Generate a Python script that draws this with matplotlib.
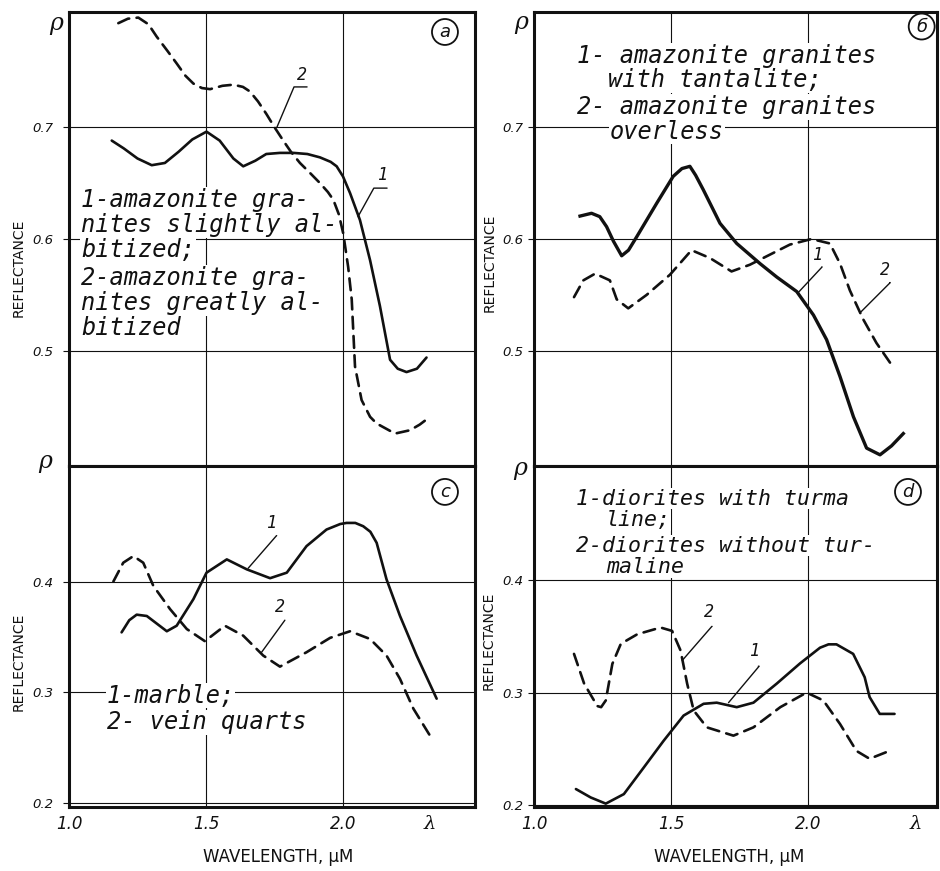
import matplotlib
matplotlib.use("Agg")
import matplotlib.pyplot as plt

ink = "#111111"

# ---- panel a : amazonite granites, albitization
a_x1 = [1.156, 1.20, 1.25, 1.302, 1.35, 1.40, 1.45, 1.502, 1.55, 1.60, 1.636, 1.68, 1.72, 1.77,
        1.82, 1.87, 1.916, 1.955, 1.977, 2.00, 2.026, 2.062, 2.099, 2.135, 2.172, 2.20, 2.232,
        2.27, 2.305]
a_y1 = [0.688, 0.681, 0.672, 0.666, 0.668, 0.678, 0.689, 0.696, 0.688, 0.672, 0.665, 0.670,
        0.676, 0.677, 0.677, 0.676, 0.673, 0.669, 0.665, 0.656, 0.641, 0.617, 0.581, 0.540,
        0.492, 0.484, 0.481, 0.484, 0.494]
a_x2 = [1.18, 1.215, 1.253, 1.29, 1.32, 1.36, 1.393, 1.425, 1.454, 1.485, 1.515, 1.56, 1.60,
        1.635, 1.66, 1.69, 1.72, 1.75, 1.782, 1.81, 1.843, 1.88, 1.916, 1.945, 1.965, 1.985,
        2.001, 2.019, 2.032, 2.038, 2.044, 2.068, 2.099, 2.123, 2.19, 2.245, 2.28, 2.318]
a_y2 = [0.793, 0.797, 0.798, 0.792, 0.781, 0.768, 0.757, 0.746, 0.739, 0.735, 0.734, 0.737,
        0.738, 0.736, 0.732, 0.723, 0.712, 0.700, 0.688, 0.678, 0.668, 0.659, 0.650, 0.642,
        0.635, 0.622, 0.605, 0.575, 0.546, 0.516, 0.486, 0.456, 0.441, 0.435, 0.426, 0.429,
        0.434, 0.441]

# ---- panel b : amazonite granites, tantalite
b_x1 = [1.168, 1.21, 1.24, 1.265, 1.29, 1.32, 1.345, 1.375, 1.448, 1.508, 1.54, 1.569, 1.59,
        1.618, 1.679, 1.74, 1.825, 1.886, 1.959, 2.02, 2.068, 2.117, 2.166, 2.214, 2.263,
        2.305, 2.348]
b_y1 = [0.6205, 0.623, 0.620, 0.611, 0.598, 0.585, 0.590, 0.602, 0.632, 0.656, 0.663, 0.665,
        0.657, 0.644, 0.614, 0.596, 0.578, 0.566, 0.553, 0.532, 0.510, 0.477, 0.441, 0.413,
        0.407, 0.415, 0.426]
b_x2 = [1.146, 1.18, 1.223, 1.277, 1.302, 1.344, 1.411, 1.496, 1.575, 1.642, 1.721, 1.788,
        1.861, 1.934, 2.013, 2.08, 2.117, 2.153, 2.202, 2.25, 2.305]
b_y2 = [0.548, 0.563, 0.569, 0.563, 0.546, 0.538, 0.550, 0.568, 0.590, 0.583, 0.571, 0.577,
        0.586, 0.595, 0.600, 0.596, 0.578, 0.554, 0.528, 0.507, 0.4875]

# ---- panel c : marble / vein quartz
c_x1 = [1.192, 1.22, 1.247, 1.284, 1.357, 1.393, 1.454, 1.502, 1.576, 1.649, 1.734, 1.795,
        1.867, 1.94, 1.99, 2.013, 2.045, 2.074, 2.10, 2.123, 2.159, 2.208, 2.269, 2.342]
c_y1 = [0.354, 0.365, 0.370, 0.3688, 0.355, 0.360, 0.384, 0.408, 0.420, 0.411, 0.403, 0.408,
        0.432, 0.447, 0.452, 0.453, 0.453, 0.450, 0.445, 0.435, 0.402, 0.369, 0.333, 0.294]
c_x2 = [1.162, 1.198, 1.235, 1.271, 1.308, 1.369, 1.43, 1.496, 1.569, 1.636, 1.709, 1.77,
        1.867, 1.953, 2.026, 2.099, 2.159, 2.208, 2.257, 2.324]
c_y2 = [0.400, 0.417, 0.423, 0.417, 0.396, 0.375, 0.357, 0.346, 0.360, 0.351, 0.333, 0.323,
        0.336, 0.349, 0.355, 0.348, 0.333, 0.312, 0.285, 0.258]

# ---- panel d : diorites with / without tourmaline
d_x1 = [1.153, 1.207, 1.262, 1.328, 1.40, 1.473, 1.546, 1.619, 1.667, 1.74, 1.801, 1.886,
        1.971, 2.044, 2.075, 2.104, 2.165, 2.207, 2.225, 2.262, 2.316]
d_y1 = [0.214, 0.2065, 0.201, 0.2095, 0.233, 0.257, 0.2795, 0.290, 0.291, 0.287, 0.291, 0.308,
        0.326, 0.340, 0.343, 0.343, 0.3345, 0.3137, 0.296, 0.281, 0.281]
d_x2 = [1.146, 1.183, 1.231, 1.245, 1.262, 1.286, 1.317, 1.377, 1.462, 1.504, 1.535, 1.559,
        1.583, 1.631, 1.728, 1.801, 1.899, 1.995, 2.056, 2.117, 2.177, 2.225, 2.292]
d_y2 = [0.3345, 0.308, 0.288, 0.287, 0.293, 0.3256, 0.3435, 0.352, 0.358, 0.355, 0.3375, 0.308,
        0.284, 0.269, 0.2616, 0.269, 0.287, 0.300, 0.293, 0.272, 0.248, 0.241, 0.2475]

top_ticks = [0.5, 0.6, 0.7]
bottom_ticks = [0.2, 0.3, 0.4]
x_ticks = [1.0, 1.5, 2.0]

a_text = ["1-amazonite gra-", "nites slightly al-", "bitized;",
          "2-amazonite gra-", "nites greatly al-", "bitized"]
b_text = ["1- amazonite granites", "with tantalite;",
          "2- amazonite granites", "overless"]
c_text = ["1-marble;", "2- vein quarts"]
d_text = ["1-diorites with turma", "line;",
          "2-diorites without tur-", "maline"]

hand = dict(family="DejaVu Sans Mono", style="oblique", color=ink)

fig = plt.figure(figsize=(9.4, 8.71), dpi=100)
W, H = 940, 871
ax_a = fig.add_axes([69 / W, 1 - 466 / H, 406 / W, 454 / H])
ax_b = fig.add_axes([534 / W, 1 - 466 / H, 403 / W, 454 / H])
ax_c = fig.add_axes([69 / W, 1 - 807 / H, 406 / W, 341 / H])
ax_d = fig.add_axes([534 / W, 1 - 807 / H, 403 / W, 341 / H])


def style(ax, xmax, ylim, yticks, bottom, pad):
    ax.set_xlim(1.0, xmax)
    ax.set_ylim(*ylim)
    ax.set_axisbelow(True)
    for s in ax.spines.values():
        s.set_linewidth(2.2)
        s.set_color(ink)
    ax.set_yticks(yticks)
    ax.set_yticklabels([f"{t:.1f}" for t in yticks], fontsize=9.5, style="italic", color=ink)
    ax.set_xticks(x_ticks)
    if bottom:
        ax.set_xticklabels([f"{t:.1f}" for t in x_ticks], fontsize=12, style="italic", color=ink)
    else:
        ax.set_xticklabels([])
    ax.grid(True, color=ink, lw=0.8)
    ax.tick_params(axis="y", direction="out", length=4, width=0.8, pad=pad, colors=ink)
    ax.tick_params(axis="x", length=0, pad=6)


style(ax_a, 2.482, (0.397, 0.803), top_ticks, False, 7)
style(ax_b, 2.471, (0.397, 0.803), top_ticks, False, 4)
style(ax_c, 2.482, (0.196, 0.5045), bottom_ticks, True, 7)
style(ax_d, 2.471, (0.198, 0.502), bottom_ticks, True, 4)

solid = dict(color=ink, lw=1.9, solid_capstyle="round", solid_joinstyle="round", zorder=4)
dashed = dict(color=ink, lw=1.9, dashes=(4.5, 2.8), dash_capstyle="round", zorder=4)

ax_a.plot(a_x1, a_y1, **solid)
ax_a.plot(a_x2, a_y2, **dashed)
ax_b.plot(b_x1, b_y1, color=ink, lw=2.4, solid_joinstyle="round", zorder=4)
ax_b.plot(b_x2, b_y2, **dashed)
ax_c.plot(c_x1, c_y1, **solid)
ax_c.plot(c_x2, c_y2, **dashed)
ax_d.plot(d_x1, d_y1, **solid)
ax_d.plot(d_x2, d_y2, **dashed)


def write(ax, lines, xs, ys, size=17):
    for s, x, y in zip(lines, xs, ys):
        ax.text(x, y, s, fontsize=size, ha="left", va="center", zorder=3,
                bbox=dict(fc="white", ec="none", pad=0.5), **hand)


write(ax_a, a_text, [1.044] * 6, [0.6348, 0.6125, 0.5902, 0.5652, 0.5429, 0.5205])
write(ax_b, b_text, [1.157, 1.27, 1.157, 1.277], [0.764, 0.742, 0.718, 0.696])
write(ax_c, c_text, [1.137, 1.137], [0.2967, 0.2727])
write(ax_d, d_text, [1.155, 1.262, 1.155, 1.262], [0.473, 0.4536, 0.431, 0.4119], size=15.5)


def leader(ax, num, txt, bar_end, target, angle):
    ax.text(txt[0], txt[1], num, fontsize=12, ha="center", va="center", zorder=5, **hand)
    ax.annotate("", xy=target, xytext=bar_end, zorder=5,
                arrowprops=dict(arrowstyle="-", lw=1.0, color=ink, shrinkA=0, shrinkB=0,
                                connectionstyle=f"angle,angleA=0,angleB={angle},rad=0"))


leader(ax_a, "2", (1.850, 0.747), (1.869, 0.736), (1.759, 0.700), 67)
leader(ax_a, "1", (2.146, 0.657), (2.161, 0.6455), (2.055, 0.620), 61)
leader(ax_b, "1", (2.036, 0.586), (2.051, 0.575), (1.964, 0.552), 47)
leader(ax_b, "2", (2.281, 0.572), (2.299, 0.561), (2.19, 0.534), 45)
leader(ax_c, "1", (1.74, 0.453), (1.758, 0.4415), (1.654, 0.412), 49)
leader(ax_c, "2", (1.77, 0.377), (1.788, 0.365), (1.703, 0.336), 54)
leader(ax_d, "2", (1.6375, 0.372), (1.65, 0.359), (1.541, 0.3286), 49)
leader(ax_d, "1", (1.807, 0.337), (1.819, 0.3235), (1.71, 0.291), 50)

# circled panel letters
for ax, letter, x, y in [(ax_a, "a", 0.926, 0.956), (ax_b, "б", 0.962, 0.968),
                         (ax_c, "c", 0.926, 0.924), (ax_d, "d", 0.928, 0.924)]:
    ax.text(x, y, letter, transform=ax.transAxes, fontsize=13, ha="center", va="center",
            family="DejaVu Sans", style="italic", color=ink, zorder=6,
            bbox=dict(boxstyle="circle,pad=0.22", fc="white", ec=ink, lw=1.3))

# rho marks on the y axes
for ax, x, y in [(ax_a, -0.032, 0.974), (ax_b, -0.032, 0.976),
                 (ax_c, -0.059, 1.012), (ax_d, -0.035, 0.994)]:
    ax.text(x, y, "ρ", transform=ax.transAxes, fontsize=17, ha="center", va="center",
            family="DejaVu Serif", style="italic", color=ink, clip_on=False)

# lambda at the end of the x axes
ax_c.text(2.3175, -0.0235, "λ", transform=ax_c.get_xaxis_transform(), fontsize=14,
          ha="center", va="top", family="DejaVu Serif", style="italic", color=ink)
ax_d.text(2.395, -0.0235, "λ", transform=ax_d.get_xaxis_transform(), fontsize=14,
          ha="center", va="top", family="DejaVu Serif", style="italic", color=ink)

# axis titles
for x, y in [(19, 268), (490, 263), (19, 662), (489, 641)]:
    fig.text(x / W, 1 - y / H, "REFLECTANCE", rotation=90, fontsize=10,
             ha="center", va="center", color=ink)
for x in [278, 729]:
    fig.text(x / W, 1 - 857 / H, "WAVELENGTH, μM", fontsize=12, ha="center", va="center",
             color=ink)

fig.savefig("out.png", dpi=100, facecolor="white")
